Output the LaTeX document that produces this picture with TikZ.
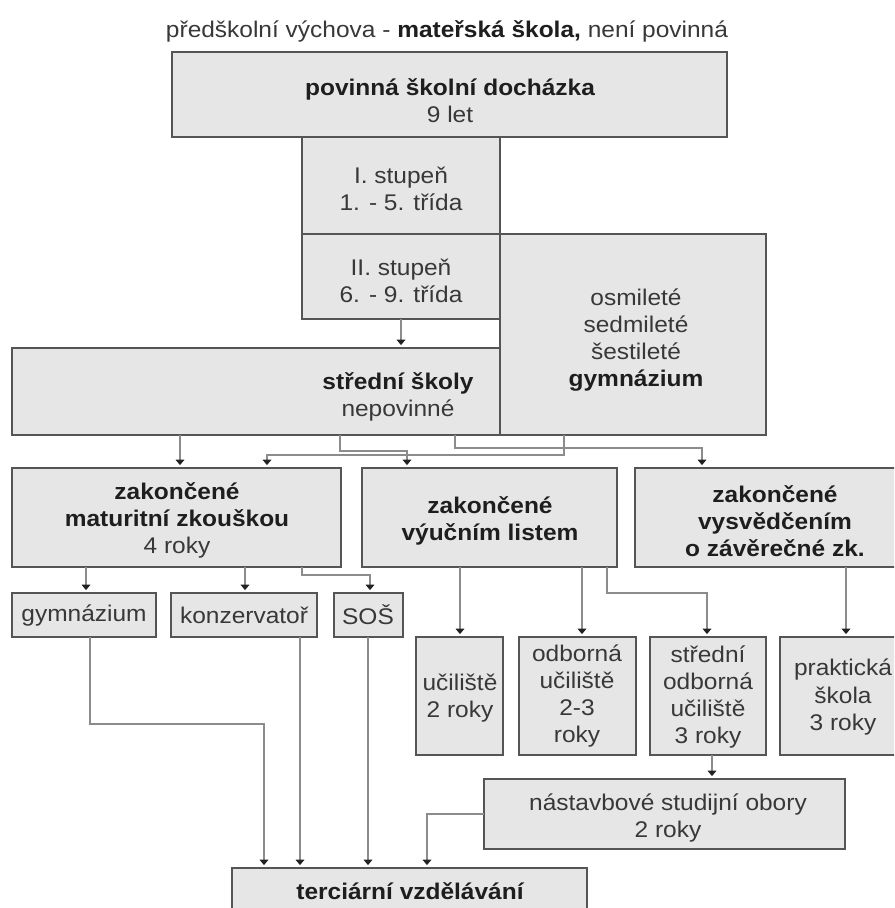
\documentclass[tikz,border=0pt]{standalone}
\usepackage{fontspec}
\setmainfont{Liberation Sans}[FakeStretch=1.08]
\usetikzlibrary{arrows.meta}
\definecolor{boxf}{HTML}{E6E6E6}
\definecolor{boxd}{HTML}{555555}
\definecolor{linec}{HTML}{8C8C8C}
\definecolor{txtc}{HTML}{383838}
\definecolor{boldc}{HTML}{1E1E1E}
\definecolor{tipc}{HTML}{222222}
\newcommand\fsz{\fontsize{17}{20.3}\selectfont}
\newcommand\bt[1]{{\color{boldc}\bfseries #1}}
\newcommand\mkbox[5]{\node[box, minimum width={(#4-#2)*0.75pt}, minimum height={(#5-#3)*0.75pt}] (#1) at (#2,#3) {};}
\begin{document}
\begin{tikzpicture}[x=0.75pt,y=-0.75pt,
  box/.style={draw=boxd, fill=boxf, line width=1.1pt, inner sep=0pt, outer sep=0pt, anchor=north west},
  txt/.style={align=center, font=\fsz, text=txtc, inner sep=0pt},
  conn/.style={draw=linec, line width=0.8pt, -{Triangle[width=6.5pt,length=4pt,color=tipc]}, shorten >=2.2pt}]
\useasboundingbox (0,0) rectangle (894,908);
\fill[white] (0,0) rectangle (894,908);
\clip (0,0) rectangle (894,908);

% title
\node[txt] (title) at (447,31) {předškolní výchova - \bt{mateřská škola,} není povinná};

% boxes
\mkbox{A}{172}{52}{727}{137}
\mkbox{B}{302}{137}{500}{234}
\mkbox{C}{302}{234}{500}{319}
\mkbox{S}{12}{348}{500}{435}
\mkbox{G}{500}{234}{766}{435}
\mkbox{M}{12}{468}{341}{567}
\mkbox{V}{362}{468}{617}{567}
\mkbox{Z}{635}{468}{915}{567}
\mkbox{g}{12}{593}{156}{637}
\mkbox{k}{171}{593}{317}{637}
\mkbox{s}{334}{593}{403}{637}
\mkbox{u}{416}{637}{503}{755}
\mkbox{o}{519}{637}{636}{755}
\mkbox{so}{650}{637}{766}{755}
\mkbox{p}{780}{637}{906}{755}
\mkbox{N}{484}{779}{845}{849}
\mkbox{T}{232}{868}{587}{930}

% texts
\node[txt] (tA) at (450,101) {\bt{povinná školní docházka}\\9 let};
\node[txt] (tB) at (401,189) {I. stupeň\\1. - 5. třída};
\node[txt] (tC) at (401,281) {II. stupeň\\6. - 9. třída};
\node[txt] (tG) at (636,340) {osmileté\\sedmileté\\šestileté\\\bt{gymnázium}};
\node[txt] (tS) at (398,397) {\bt{střední školy}\\nepovinné};
\node[txt] (tM) at (177,520) {\bt{zakončené}\\\bt{maturitní zkouškou}\\4 roky};
\node[txt] (tV) at (490,521) {\bt{zakončené}\\\bt{výučním listem}};
\node[txt] (tZ) at (775,521) {\bt{zakončené}\\\bt{vysvědčením}\\\bt{o závěrečné zk.}};
\node[txt] (tg) at (84,615) {gymnázium};
\node[txt] (tk) at (244,615) {konzervatoř};
\node[txt] (ts) at (368,615) {SOŠ};
\node[txt] (tu) at (460,698) {učiliště\\2 roky};
\node[txt] (to) at (577,696) {odborná\\učiliště\\2-3\\roky};
\node[txt] (tso) at (708,697) {střední\\odborná\\učiliště\\3 roky};
\node[txt] (tp) at (843,697) {praktická\\škola\\3 roky};
\node[txt] (tN) at (668,818) {nástavbové studijní obory\\2 roky};
\node[txt] (tT) at (410,891) {\bt{terciární vzdělávání}};

% connectors
\draw[conn] (401,0 |- C.south) -- (401,0 |- S.north);
\draw[conn] (180,0 |- S.south) -- (180,0 |- M.north);
\draw[conn] (340,0 |- S.south) -- (340,451) -- (407,451) -- (407,0 |- V.north);
\draw[conn] (455,0 |- S.south) -- (455,448) -- (702,448) -- (702,0 |- Z.north);
\draw[conn] (564,0 |- G.south) -- (564,455) -- (267,455) -- (267,0 |- M.north);
\draw[conn] (86,0 |- M.south) -- (86,0 |- g.north);
\draw[conn] (245,0 |- M.south) -- (245,0 |- k.north);
\draw[conn] (302,0 |- M.south) -- (302,575) -- (370,575) -- (370,0 |- s.north);
\draw[conn] (460,0 |- V.south) -- (460,0 |- u.north);
\draw[conn] (582,0 |- V.south) -- (582,0 |- o.north);
\draw[conn] (607,0 |- V.south) -- (607,593) -- (707,593) -- (707,0 |- so.north);
\draw[conn] (846,0 |- Z.south) -- (846,0 |- p.north);
\draw[conn] (712,0 |- so.south) -- (712,0 |- N.north);
\draw[conn] (90,0 |- g.south) -- (90,724) -- (264,724) -- (264,0 |- T.north);
\draw[conn] (300,0 |- k.south) -- (300,0 |- T.north);
\draw[conn] (368,0 |- s.south) -- (368,0 |- T.north);
\draw[conn] (N.west |- 0,814) -- (427,814) -- (427,0 |- T.north);
\end{tikzpicture}
\end{document}
